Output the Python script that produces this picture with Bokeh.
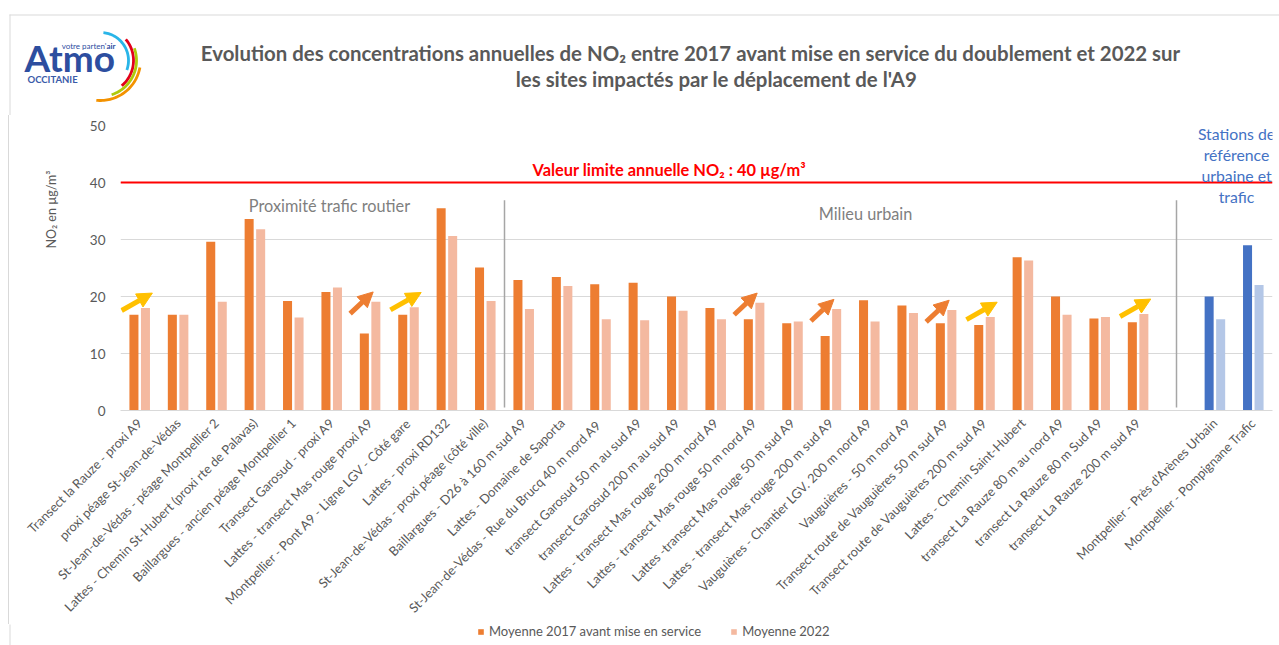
import numpy as np
from math import pi
from bokeh.plotting import figure
from bokeh.layouts import column, row
from bokeh.models import (FactorRange, Range1d, Span, Label, Legend, LegendItem, Title,
                          ColumnDataSource, Arrow, NormalHead, FixedTicker, Div)
from bokeh.core.properties import value
from bokeh.transform import dodge
from bokeh.embed import file_html
from bokeh.resources import INLINE

# ---------------- data ----------------
sites_proximite = [
    "Transect la Rauze - proxi A9",
    "proxi péage St-Jean-de-Védas",
    "St-Jean-de-Védas - péage Montpellier 2",
    "Lattes - Chemin St-Hubert (proxi rte de Palavas)",
    "Baillargues - ancien péage Montpellier 1",
    "Transect Garosud - proxi A9",
    "Lattes - transect Mas rouge proxi A9",
    "Montpellier - Pont A9 - Ligne LGV - Côté gare",
    "Lattes - proxi RD132",
    "St-Jean-de-Védas - proxi péage (côté ville)",
]
sites_urbain = [
    "Baillargues - D26 à 160 m sud A9",
    "Lattes - Domaine de Saporta",
    "St-Jean-de-Védas - Rue du Brucq  40 m nord A9",
    "transect Garosud 50 m au sud A9",
    "transect Garosud 200 m au sud A9",
    "Lattes - transect Mas rouge 200 m nord A9",
    "Lattes - transect Mas rouge 50 m nord A9",
    "Lattes -transect Mas rouge 50 m sud A9",
    "Lattes - transect Mas rouge 200 m sud A9",
    "Vauguières - Chantier LGV. 200 m nord A9",
    "Vauguières - 50 m nord A9",
    "Transect route de Vauguières 50 m sud A9",
    "Transect route de Vauguières 200 m sud A9",
    "Lattes - Chemin Saint-Hubert",
    "transect La Rauze 80 m au nord A9",
    "transect La Rauze 80 m Sud A9",
    "transect La Rauze 200 m sud A9",
]
sites_reference = [
    "Montpellier - Près d'Arènes Urbain",
    "Montpellier - Pompignane Trafic",
]
moy2017_proximite = [16.8, 16.8, 29.6, 33.6, 19.2, 20.8, 13.5, 16.8, 35.5, 25.1]
moy2022_proximite = [18.0, 16.8, 19.1, 31.8, 16.3, 21.6, 19.1, 18.1, 30.6, 19.2]
moy2017_urbain = [22.9, 23.4, 22.15, 22.4, 20.0, 18.0, 16.0, 15.3, 13.05, 19.35,
                  18.4, 15.3, 15.0, 26.9, 20.0, 16.15, 15.5]
moy2022_urbain = [17.8, 21.85, 16.0, 15.85, 17.5, 16.0, 18.9, 15.6, 17.8, 15.6,
                  17.1, 17.65, 16.4, 26.3, 16.8, 16.4, 16.95]
moy2017_reference = [20.0, 29.0]
moy2022_reference = [16.0, 22.0]
valeur_limite = 40
y_ticks = [0, 10, 20, 30, 40, 50]
# increase arrows: small (yellow) and strong (orange)
hausse_faible = ["Transect la Rauze - proxi A9",
                 "Montpellier - Pont A9 - Ligne LGV - Côté gare",
                 "Transect route de Vauguières 200 m sud A9",
                 "transect La Rauze 200 m sud A9"]
hausse_forte = ["Lattes - transect Mas rouge proxi A9",
                "Lattes - transect Mas rouge 50 m nord A9",
                "Lattes - transect Mas rouge 200 m sud A9",
                "Transect route de Vauguières 50 m sud A9"]

# ---------------- styling ----------------
FONT = "Lato"
GREY = "#595959"
ORANGE = "#ED7D31"
PINK = "#F4B9A0"
BLUE = "#4472C4"
LBLUE = "#B4C7E7"
BORDER = "#D9D9D9"
W, H = 1279, 645
HEAD_H = 115          # header height
LEG_H = 21            # legend strip height
STRIP_W = 10          # left border strip width
FL, FR, FT, FB = 120, 1272, 125, 411   # frame edges in page pixels

blank = " "
cats = sites_proximite + sites_urbain + [blank] + sites_reference
N = len(cats)

def dx(px):
    return (px - FL) / (FR - FL) * N

def dy(py):
    return (FB - py) / (FB - FT) * 50.0

def bare(fig):
    fig.xgrid.grid_line_color = None
    fig.ygrid.grid_line_color = None
    fig.outline_line_color = None
    fig.background_fill_color = "white"
    fig.border_fill_color = "white"
    return fig

def deco(w, h, y_flip=True):
    yr = Range1d(h, 0) if y_flip else Range1d(0, h)
    return bare(figure(width=w, height=h, x_range=Range1d(0, w), y_range=yr,
                       x_axis_location=None, y_axis_location=None, output_backend="svg",
                       toolbar_location=None, min_border=0))

# ---------------- header (logo + title) ----------------
head = deco(W, HEAD_H)
head.segment(x0=[9, 9.5], x1=[W + 5, 9.5], y0=[14.5, 14], y1=[14.5, HEAD_H + 2],
             line_color=BORDER, line_width=1)
head.text(x=[690], y=[52], text=["Evolution des concentrations annuelles de NO₂ entre 2017 avant mise en service du doublement et 2022 sur"],
          text_font=value(FONT), text_font_style="bold", text_font_size="20.4px",
          text_color=GREY, text_align="center", text_baseline="middle")
head.text(x=[716], y=[78], text=["les sites impactés par le déplacement de l'A9"],
          text_font=value(FONT), text_font_style="bold", text_font_size="20.4px",
          text_color=GREY, text_align="center", text_baseline="middle")
LOGO = "#2D4E9F"
head.text(x=[24], y=[57], text=["Atmo"], text_font=value(FONT), text_font_style="bold",
          text_font_size="37px", text_color=LOGO, text_baseline="middle")
head.text(x=[106], y=[45], text=["votre parten'"], text_font=value(FONT),
          text_font_size="8px", text_color=LOGO, text_align="right", text_baseline="middle")
head.text(x=[106], y=[45], text=["air"], text_font=value(FONT), text_font_style="bold",
          text_font_size="8px", text_color=LOGO, text_baseline="middle")
head.text(x=[27], y=[79], text=["OCCITANIE"], text_font=value(FONT), text_font_style="bold",
          text_font_size="9.5px", text_color="#3A5BA9", text_baseline="middle")
arc_xs, arc_ys, arc_cols = [], [], []
for r, a0, a1, col in [(28, 84, -20, "#29B5E8"), (33, 40, -50, "#E2001A"),
                       (36, 20, -72, "#AFCA0B"), (40, -10, -96, "#F39200")]:
    a = np.radians(np.linspace(a0, a1, 40))
    ro, ri = r + 1.4, r - 1.4
    arc_xs.append(list(100 + ro * np.cos(a)) + list(100 + ri * np.cos(a[::-1])))
    arc_ys.append(list(60 - ro * np.sin(a)) + list(60 - ri * np.sin(a[::-1])))
    arc_cols.append(col)
head.patches(xs=arc_xs, ys=arc_ys, fill_color=arc_cols, line_color=None)

# ---------------- main chart ----------------
MH = H - HEAD_H - LEG_H
strip = Div(text=f'<div style="width:9px;height:{MH}px;border-right:1px solid {BORDER};"></div>',
            width=STRIP_W, height=MH, margin=0)

MW = W - STRIP_W
p = figure(width=MW, height=MH, x_range=FactorRange(*cats), y_range=Range1d(0, 50),
           output_backend="svg", toolbar_location=None,
           min_border_left=FL - STRIP_W, min_border_right=W - FR,
           min_border_top=FT - HEAD_H, min_border_bottom=(H - LEG_H) - FB)
p.background_fill_color = "white"
p.border_fill_color = "white"
p.outline_line_color = None

src_o = ColumnDataSource(dict(site=sites_proximite + sites_urbain,
                              v17=moy2017_proximite + moy2017_urbain,
                              v22=moy2022_proximite + moy2022_urbain))
src_b = ColumnDataSource(dict(site=sites_reference, v17=moy2017_reference,
                              v22=moy2022_reference))
BW = 0.235
OFF = 0.15
p.vbar(x=dodge("site", -OFF, range=p.x_range), top="v17", width=BW,
       source=src_o, fill_color=ORANGE, line_color=None)
p.vbar(x=dodge("site", OFF, range=p.x_range), top="v22", width=BW,
       source=src_o, fill_color=PINK, line_color=None)
p.vbar(x=dodge("site", -OFF, range=p.x_range), top="v17", width=BW,
       source=src_b, fill_color=BLUE, line_color=None)
p.vbar(x=dodge("site", OFF, range=p.x_range), top="v22", width=BW,
       source=src_b, fill_color=LBLUE, line_color=None)

# axes
p.xgrid.grid_line_color = None
p.ygrid.grid_line_color = BORDER
p.ygrid.ticker = FixedTicker(ticks=y_ticks)
p.yaxis.ticker = FixedTicker(ticks=y_ticks)
p.yaxis.axis_line_color = None
p.yaxis.major_tick_line_color = None
p.yaxis.minor_tick_line_color = None
p.yaxis.major_label_standoff = 9
p.yaxis.major_label_text_color = GREY
p.yaxis.major_label_text_font = FONT
p.yaxis.major_label_text_font_size = "13.5px"
p.xaxis.axis_line_color = BORDER
p.xaxis.major_tick_line_color = None
p.xaxis.major_label_orientation = pi / 4
p.xaxis.major_label_standoff = 4
p.xaxis.major_label_text_color = GREY
p.xaxis.major_label_text_font = FONT
p.xaxis.major_label_text_font_size = "12.8px"

# y-axis title
p.add_layout(Title(text="NO₂ en µg/m³", align="right", offset=45, standoff=55,
                   text_font=FONT, text_font_size="12.5px", text_font_style="normal",
                   text_color=GREY), "left")

# limit value line
p.add_layout(Span(location=valeur_limite, dimension="width", line_color="#FF0000",
                  line_width=2))
p.add_layout(Label(x=dx(532), y=dy(169), text="Valeur limite annuelle NO₂ : 40 µg/m³",
                   text_font=FONT, text_font_style="bold", text_font_size="16.4px",
                   text_color="#FF0000", text_baseline="middle"))

# group separators and group names
n1 = len(sites_proximite)
n2 = n1 + len(sites_urbain)
p.segment(x0=[n1, n2 + 0.5], x1=[n1, n2 + 0.5], y0=[dy(408)] * 2, y1=[dy(200)] * 2,
          line_color="#A6A6A6", line_width=1.5)
p.add_layout(Label(x=dx(329), y=dy(205), text="Proximité trafic routier", text_font=FONT,
                   text_font_size="16.3px", text_color="#7F7F7F", text_align="center",
                   text_baseline="middle"))
p.add_layout(Label(x=dx(865), y=dy(213), text="Milieu urbain", text_font=FONT,
                   text_font_size="16.3px", text_color="#7F7F7F", text_align="center",
                   text_baseline="middle"))
for t, yy in zip(["Stations de", "référence", "urbaine et", "trafic"], [133, 154, 175, 196]):
    p.add_layout(Label(x=dx(1236), y=dy(yy), text=t, text_font=FONT, text_font_size="15.8px",
                       text_color=BLUE, text_align="center", text_baseline="middle"))

# arrows
for site in hausse_faible + hausse_forte:
    i = cats.index(site)
    c = i + 0.5
    v = src_o.data["v22"][i]
    if site in hausse_faible:
        col = "#FFC000"
        xs, ys, xe, ye = c - 0.47, v - 0.45, c + 0.33, v + 2.6
    else:
        col = ORANGE
        xs, ys, xe, ye = c - 0.52, v - 2.1, c + 0.08, v + 1.7
    p.add_layout(Arrow(end=NormalHead(size=15, fill_color=col, line_color=col),
                       x_start=xs, y_start=ys, x_end=xe, y_end=ye,
                       line_color=col, line_width=5))

# ---------------- legend strip ----------------
leg = deco(W, LEG_H, y_flip=False)
leg.segment(x0=[9.5], x1=[9.5], y0=[-2], y1=[LEG_H + 2], line_color=BORDER, line_width=1)
# zero-size proxy glyphs that only carry the legend swatches
l17 = leg.vbar(x=[0], top=[0], bottom=[0], width=0, fill_color=ORANGE, line_color=None)
l22 = leg.vbar(x=[0], top=[0], bottom=[0], width=0, fill_color=PINK, line_color=None)
legend = Legend(items=[LegendItem(label="Moyenne 2017 avant mise en service", renderers=[l17]),
                       LegendItem(label="Moyenne 2022", renderers=[l22])],
                orientation="horizontal", location=(477, 6), glyph_width=7, glyph_height=7,
                label_height=14, label_standoff=5, spacing=29, padding=0, margin=0,
                border_line_color=None, background_fill_alpha=0, label_text_font=FONT,
                label_text_font_size="13px", label_text_color=GREY)
leg.add_layout(legend)

layout = column(head, row(strip, p, spacing=0), leg, spacing=0)
open("out.html", "w").write(file_html(layout, INLINE))
